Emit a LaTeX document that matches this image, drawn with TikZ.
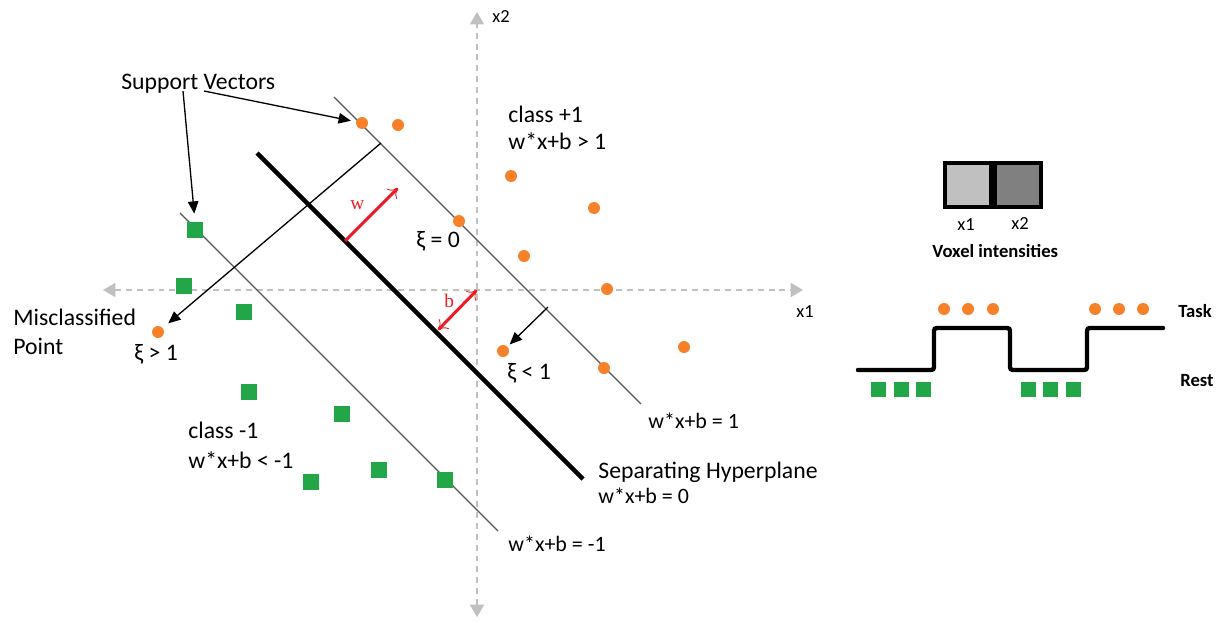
\documentclass[tikz,border=0pt]{standalone}
\usepackage{fontspec}
\setmainfont{Carlito}
\newfontfamily\redserif{Liberation Serif}
\usetikzlibrary{arrows.meta}

\definecolor{dotorange}{RGB}{247,129,42}
\definecolor{sqgreen}{RGB}{34,166,72}
\definecolor{axisgray}{RGB}{192,192,192}
\definecolor{margingray}{RGB}{85,85,85}
\definecolor{vecred}{RGB}{237,28,36}
\definecolor{voxlight}{RGB}{192,192,192}
\definecolor{voxdark}{RGB}{128,128,128}

\begin{document}
\begin{tikzpicture}[x=0.02cm, y=-0.02cm,
  posdot/.style={circle, fill=dotorange, inner sep=0, minimum size=0.24cm},
  negsq/.style={rectangle, fill=sqgreen, inner sep=0, minimum size=0.32cm},
  restsq/.style={rectangle, fill=sqgreen, inner sep=0, minimum size=0.30cm},
  lbl/.style={font=\fontsize{13.5}{16}\selectfont, inner sep=0, anchor=base west},
  eqlbl/.style={font=\fontsize{12.5}{15}\selectfont, inner sep=0, anchor=base west},
  axlbl/.style={font=\fontsize{10.5}{12}\selectfont, inner sep=0, anchor=base west},
  boldlbl/.style={font=\fontsize{10.6}{12}\selectfont\bfseries, inner sep=0, anchor=base west},
  veclbl/.style={font=\fontsize{11}{13}\selectfont\redserif, text=vecred, inner sep=0, anchor=base west},
  axis/.style={axisgray, line width=0.8pt, dash pattern=on 3.4pt off 2.8pt,
    {Triangle[length=7pt,width=8pt]}-{Triangle[length=7pt,width=8pt]}},
  margin/.style={margingray, line width=0.75pt},
  pointer/.style={-{Triangle[length=7pt,width=6pt]}, line width=0.75pt},
  vec/.style={vecred, line width=1.7pt, -{To[length=5pt,width=8pt,line width=0.5pt]}},
]
  \useasboundingbox (0,0) rectangle (1219,622);

  % Axes
  \coordinate (xl) at (103,290);
  \coordinate (xr) at (803,290);
  \coordinate (yt) at (477,12);
  \coordinate (yb) at (477,617);
  \coordinate (o) at (477,290);
  \draw[axis] (xl) -- (xr);
  \draw[axis] (yb) -- (yt);
  \node[axlbl] (x1lbl) at (796,317) {x1};
  \node[axlbl] (x2lbl) at (492,22) {x2};

  % Margins and separating hyperplane
  \coordinate (up0) at (334,97);
  \coordinate (up1) at (641,404);
  \coordinate (lo0) at (180,213);
  \coordinate (lo1) at (498,531);
  \coordinate (hp0) at (257,153);
  \coordinate (hp1) at (583,479);
  \draw[margin] (up0) -- (up1);
  \draw[margin] (lo0) -- (lo1);
  \draw[line width=2.5pt] (hp0) -- (hp1);

  % class +1 points
  \node[posdot] (p1) at (362,123) {};
  \node[posdot] (p2) at (398,125) {};
  \node[posdot] (p3) at (511,176) {};
  \node[posdot] (p4) at (594,208) {};
  \node[posdot] (p5) at (459,221) {};
  \node[posdot] (p6) at (524,256) {};
  \node[posdot] (p7) at (607,289) {};
  \node[posdot] (p8) at (684,347) {};
  \node[posdot] (p9) at (604,368) {};
  \node[posdot] (pin) at (503,351) {};
  \node[posdot] (pmis) at (158,332) {};

  % class -1 points
  \node[negsq] (n1) at (195,230) {};
  \node[negsq] (n2) at (184,286) {};
  \node[negsq] (n3) at (244,312) {};
  \node[negsq] (n4) at (249,392) {};
  \node[negsq] (n5) at (342,414) {};
  \node[negsq] (n6) at (379,470) {};
  \node[negsq] (n7) at (311,482) {};
  \node[negsq] (n8) at (445,480) {};

  % w and b
  \coordinate (w0) at (345,241);
  \coordinate (w1) at (398,188);
  \coordinate (b1) at (438,330);
  \draw[vec] (w0) -- (w1);
  \draw[vec, {To[length=5pt,width=8pt,line width=0.5pt]}-{To[length=5pt,width=8pt,line width=0.5pt]}] (b1) -- (o);
  \node[veclbl] (wlbl) at (350,209) {w};
  \node[veclbl] (blbl) at (444,307) {b};

  % Pointers
  \node[lbl] (sv) at (121,89) {Support Vectors};
  \coordinate (svA) at (183,91);
  \coordinate (svB) at (204,91);
  \draw[pointer, shorten >=0.16cm] (svA) -- (n1.north);
  \draw[pointer, shorten >=0.1cm] (svB) -- (p1);
  \coordinate (m1) at (381,143);
  \coordinate (m2) at (548,307);
  \draw[pointer, shorten >=0.14cm] (m1) -- (pmis);
  \draw[pointer, shorten >=0.06cm] (m2) -- (pin);

  % Labels
  \node[lbl] (cpos) at (508,122) {class +1};
  \node[lbl] (cposeq) at (508,149) {w*x+b > 1};
  \node[lbl] (xi0) at (416,247) {ξ = 0};
  \node[lbl] (mis) at (13,325) {Misclassified};
  \node[lbl] (misb) at (13,354) {Point};
  \node[lbl] (xigt) at (134,360) {ξ > 1};
  \node[lbl] (xilt) at (507,379) {ξ < 1};
  \node[lbl] (cneg) at (188,438) {class -1};
  \node[lbl] (cnegeq) at (188,468) {w*x+b < -1};
  \node[eqlbl] (equp) at (648,428) {w*x+b = 1};
  \node[lbl] (sep) at (598,478) {Separating Hyperplane};
  \node[eqlbl] (eqhp) at (598,503) {w*x+b = 0};
  \node[eqlbl] (eqlo) at (508,551) {w*x+b = -1};

  % Voxel intensities
  \draw[line width=1.8pt, fill=voxlight] (945,163) rectangle (991,207);
  \draw[line width=1.8pt, fill=voxdark] (995,163) rectangle (1041,207);
  \node[axlbl] (vx1) at (957,230) {x1};
  \node[axlbl] (vx2) at (1011,229) {x2};
  \node[boldlbl] (vox) at (932,257) {Voxel intensities};

  % Task / rest blocks
  \draw[line width=2.5pt, line cap=round, rounded corners=1.5pt]
    (858,370) -| (934,328) -| (1010,370) -| (1087,328) -- (1163,328);
  \foreach \x [count=\i] in {944,968,993,1095,1119,1143}
    \node[posdot] (t\i) at (\x,309) {};
  \foreach \x [count=\i] in {878,901,923,1028,1050,1073}
    \node[restsq] (r\i) at (\x,389) {};
  \node[boldlbl] (task) at (1178,317) {Task};
  \node[boldlbl] (rest) at (1180,386) {Rest};
\end{tikzpicture}
\end{document}
